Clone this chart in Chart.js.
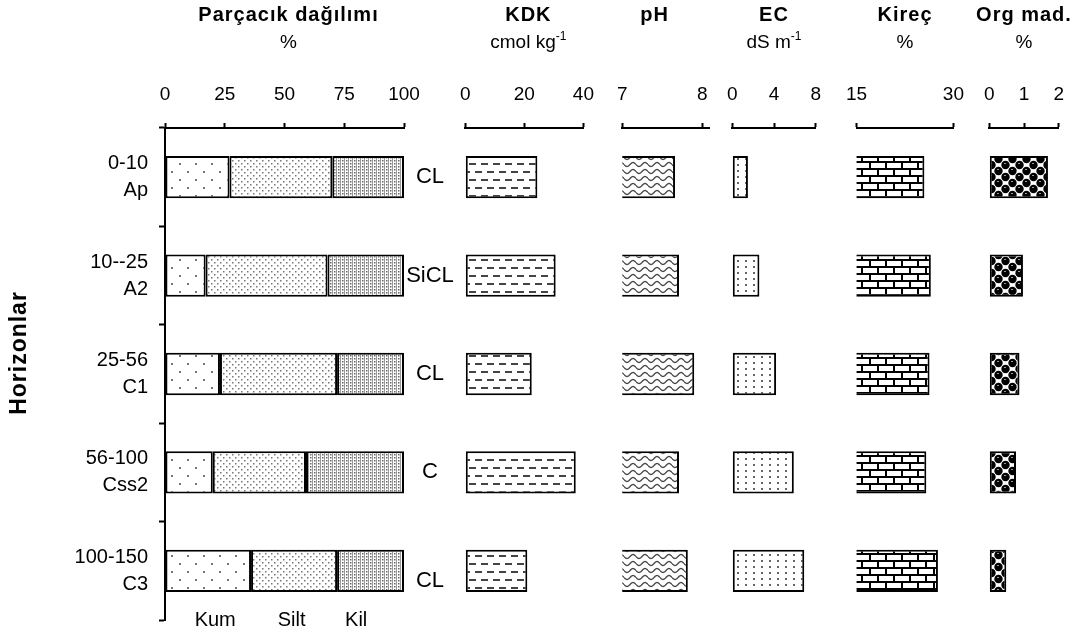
<!DOCTYPE html>
<html>
<head>
<meta charset="utf-8">
<script src="https://cdn.jsdelivr.net/npm/chart.js@4.4.1/dist/chart.umd.min.js"></script>
<style>
  body { margin: 0; background: #fff; }
  #wrap { position: relative; width: 1077px; height: 633px; overflow: hidden; }
  #wrap canvas { position: absolute; top: 0; }
</style>
</head>
<body>
<div id="wrap">
  <canvas id="particle"></canvas>
  <canvas id="kdk"></canvas>
  <canvas id="ph"></canvas>
  <canvas id="ec"></canvas>
  <canvas id="kirec"></canvas>
  <canvas id="org"></canvas>
</div>
<script>
// horizons (depth cm + horizon name)
const depths = ['0-10', '10--25', '25-56', '56-100', '100-150'];
const horizons = ['Ap', 'A2', 'C1', 'Css2', 'C3'];

// particle size distribution, %
const kum = [27, 17, 23, 20, 36];
const silt = [43, 51, 49, 39, 36];
const kil = [30, 32, 28, 41, 28];
const fractionNames = ['Kum', 'Silt', 'Kil'];
const textures = ['CL', 'SiCL', 'CL', 'C', 'CL'];

// other properties
const kdk = [24.4, 30.6, 22.5, 37.4, 21];
const ph = [7.66, 7.71, 7.90, 7.71, 7.82];
const ec = [1.5, 2.6, 4.2, 5.9, 6.9];
const kirec = [25.5, 26.5, 26.3, 25.8, 27.6];
const orgMad = [1.69, 0.97, 0.87, 0.77, 0.49];

// tick labels
const particleTicks = [0, 25, 50, 75, 100];
const kdkTicks = [0, 20, 40];
const phTicks = [7, 8];
const ecTicks = [0, 4, 8];
const kirecTicks = [15, 30];
const orgTicks = [0, 1, 2];

Chart.defaults.color = '#000';
Chart.defaults.font.family = '"Liberation Sans", Arial, sans-serif';

const FONT = '"Liberation Sans", Arial, sans-serif';

function makePattern(w, h, draw) {
    const c = document.createElement('canvas');
    c.width = w;
    c.height = h;
    const g = c.getContext('2d');
    g.fillStyle = '#fff';
    g.fillRect(0, 0, w, h);
    draw(g);
    return g.createPattern(c, 'repeat');
}

const patKum = makePattern(16, 16, g => {
    g.fillStyle = '#777';
    g.fillRect(3, 3, 2, 2);
    g.fillRect(11, 11, 2, 2);
});
const patSilt = makePattern(6, 6, g => {
    g.fillStyle = '#777';
    g.fillRect(1, 1, 1.5, 1.5);
    g.fillRect(4, 4, 1.5, 1.5);
});
const patKil = makePattern(4, 3, g => {
    g.fillStyle = '#999';
    g.fillRect(0, 0, 1, 3);
    g.fillStyle = '#666';
    g.fillRect(2, 1, 1.5, 1.5);
});
const patKdk = makePattern(12, 16, g => {
    g.fillStyle = '#444';
    g.fillRect(2, 3, 7, 2);
    g.fillRect(8, 11, 4, 2);
    g.fillRect(0, 11, 3, 2);
});
const patPh = makePattern(12, 7, g => {
    g.strokeStyle = '#444';
    g.lineWidth = 1.3;
    g.beginPath();
    for (let x = 0; x <= 12; x += 0.5) {
        const y = 3.5 + 2 * Math.sin(2 * Math.PI * x / 12);
        if (x === 0) g.moveTo(x, y); else g.lineTo(x, y);
    }
    g.stroke();
});
const patEc = makePattern(8, 6, g => {
    g.fillStyle = '#666';
    g.fillRect(3, 2, 2, 2);
});
const patKirec = makePattern(16, 14, g => {
    g.fillStyle = '#000';
    g.fillRect(0, 0, 16, 2);
    g.fillRect(0, 7, 16, 2);
    g.fillRect(0, 0, 2, 7);
    g.fillRect(8, 7, 2, 7);
});
const patOrg = makePattern(14, 12, g => {
    g.fillStyle = '#000';
    const pts = [[3.5, 3], [10.5, 9], [-3.5, 9], [17.5, 3], [3.5, 15], [10.5, -3], [-3.5, -3], [17.5, 15]];
    pts.forEach(p => {
        g.beginPath();
        g.arc(p[0], p[1], 4.2, 0, Math.PI * 2);
        g.fill();
    });
    g.fillStyle = '#999';
    g.fillRect(2, 1, 2, 1);
    g.fillRect(9, 7, 2, 1);
});

// title + unit above each panel
const headerPlugin = {
    id: 'header',
    afterDraw(chart, args, opts) {
        const ctx = chart.ctx;
        const a = chart.chartArea;
        const cx = (a.left + a.right) / 2 + (opts.dx || 0);
        ctx.save();
        ctx.fillStyle = '#000';
        ctx.textBaseline = 'middle';
        ctx.textAlign = 'center';
        ctx.font = 'bold 20px ' + FONT;
        ctx.letterSpacing = '1px';
        ctx.fillText(opts.title, cx, 15);
        ctx.letterSpacing = '0px';
        ctx.font = '19px ' + FONT;
        const w = ctx.measureText(opts.unit).width;
        let ws = 0;
        if (opts.sup) {
            ctx.font = '12px ' + FONT;
            ws = ctx.measureText(opts.sup).width;
        }
        const x0 = cx + (opts.udx || 0) - (w + ws) / 2;
        ctx.textAlign = 'left';
        ctx.font = '19px ' + FONT;
        ctx.fillText(opts.unit, x0, 43);
        if (opts.sup) {
            ctx.font = '12px ' + FONT;
            ctx.fillText(opts.sup, x0 + w, 37);
        }
        ctx.restore();
    }
};

// texture classes, fraction names and axis title on the particle panel
const particleExtras = {
    id: 'particleExtras',
    afterDraw(chart) {
        const ctx = chart.ctx;
        const a = chart.chartArea;
        const xs = chart.scales.x;
        const ys = chart.scales.y;
        ctx.save();
        ctx.fillStyle = '#000';
        ctx.textAlign = 'center';
        ctx.textBaseline = 'middle';
        ctx.font = '22px ' + FONT;
        textures.forEach((t, i) => {
            const dy = i === textures.length - 1 ? 10 : 0;
            ctx.fillText(t, a.right + 26, ys.getPixelForValue(i) + dy);
        });
        ctx.font = '20px ' + FONT;
        [21, 53, 80].forEach((v, i) => {
            ctx.fillText(fractionNames[i], xs.getPixelForValue(v), 620);
        });
        ctx.translate(20, 353);
        ctx.rotate(-Math.PI / 2);
        ctx.font = 'bold 23px ' + FONT;
        ctx.letterSpacing = '1px';
        ctx.fillText('Horizonlar', 0, 0);
        ctx.restore();
    }
};

function topAxis(min, max, ticks) {
    return {
        position: 'top',
        min: min,
        max: max,
        afterBuildTicks: s => { s.ticks = ticks.map(v => ({ value: v })); },
        afterFit: s => { s.height = 128; },
        grid: { drawOnChartArea: false, tickLength: 5, tickColor: '#000', tickWidth: 2 },
        border: { color: '#000', width: 2 },
        ticks: { font: { size: 19 }, padding: 17, color: '#000', maxRotation: 0, autoSkip: false }
    };
}

function barSet(data, pattern) {
    return {
        data: data,
        backgroundColor: pattern,
        borderColor: '#000',
        borderWidth: 2,
        borderSkipped: false,
        barPercentage: 0.43,
        categoryPercentage: 1
    };
}

function smallPanel(id, left, right, values, min, max, ticks, pattern, header) {
    const pad = 20;
    const cv = document.getElementById(id);
    cv.width = right - left + 2 * pad;
    cv.height = 633;
    cv.style.left = (left - pad) + 'px';
    return new Chart(cv, {
        type: 'bar',
        data: { labels: horizons, datasets: [barSet(values, pattern)] },
        options: {
            indexAxis: 'y',
            responsive: false,
            animation: false,
            layout: { padding: { left: pad, right: pad, top: 0, bottom: 13 } },
            plugins: { legend: { display: false }, tooltip: { enabled: false }, header: header },
            scales: {
                x: topAxis(min, max, ticks),
                y: { display: false }
            }
        },
        plugins: [headerPlugin]
    });
}

// particle size panel
const pc = document.getElementById('particle');
pc.width = 470;
pc.height = 633;
pc.style.left = '0px';
new Chart(pc, {
    type: 'bar',
    data: {
        labels: depths.map((d, i) => [d, horizons[i]]),
        datasets: [barSet(kum, patKum), barSet(silt, patSilt), barSet(kil, patKil)]
    },
    options: {
        indexAxis: 'y',
        responsive: false,
        animation: false,
        layout: { padding: { left: 0, right: 66, top: 0, bottom: 13 } },
        plugins: {
            legend: { display: false },
            tooltip: { enabled: false },
            header: { title: 'Parçacık dağılımı', unit: '%', dx: 4 }
        },
        scales: {
            x: Object.assign(topAxis(0, 100, particleTicks), { stacked: true }),
            y: {
                stacked: true,
                afterFit: s => {
                    s.width = 165;
                    s.paddingTop = 0;
                    s.paddingBottom = 0;
                },
                grid: { drawOnChartArea: false, tickLength: 6, tickColor: '#000', tickWidth: 2 },
                border: { color: '#000', width: 2 },
                ticks: { font: { size: 20, lineHeight: 1.35 }, padding: 11, color: '#000' }
            }
        }
    },
    plugins: [headerPlugin, particleExtras]
});

smallPanel('kdk', 463, 591, kdk, 0, 40, kdkTicks, patKdk,
    { title: 'KDK', unit: 'cmol kg', sup: '-1', dx: 4 });
smallPanel('ph', 620, 709, ph, 7, 8.085, phTicks, patPh,
    { title: 'pH', unit: '', dx: -11 });
smallPanel('ec', 730, 818, ec, 0, 8, ecTicks, patEc,
    { title: 'EC', unit: 'dS m', sup: '-1' });
smallPanel('kirec', 849, 961, kirec, 15, 30, kirecTicks, patKirec,
    { title: 'Kireç', unit: '%' });
smallPanel('org', 987, 1061, orgMad, 0, 2, orgTicks, patOrg,
    { title: 'Org mad.', unit: '%' });
</script>
</body>
</html>
